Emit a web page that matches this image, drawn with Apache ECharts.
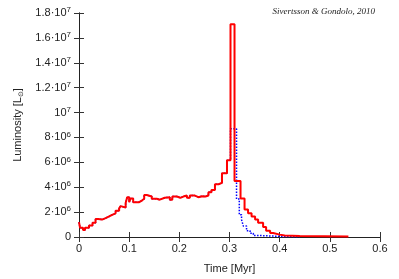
<!DOCTYPE html>
<html><head><meta charset="utf-8">
<script src="https://cdn.jsdelivr.net/npm/echarts@6/dist/echarts.min.js"></script>
<style>html,body{margin:0;padding:0;background:#fff}#c{width:399px;height:279px}</style>
</head><body><div id="c"></div>
<script>
// bin left edges (Myr) and luminosities (units of 10^6 L_sun)
var redEdges = [0, 0.002, 0.008, 0.012, 0.020, 0.027, 0.033, 0.038, 0.041, 0.046, 0.053, 0.060, 0.066, 0.073, 0.080, 0.083, 0.086, 0.093, 0.096, 0.100, 0.103, 0.108, 0.120, 0.126, 0.130, 0.135, 0.145, 0.155, 0.161, 0.171, 0.181, 0.186, 0.195, 0.202, 0.208, 0.215, 0.221, 0.231, 0.238, 0.245, 0.252, 0.258, 0.264, 0.271, 0.278, 0.285, 0.295, 0.302, 0.310, 0.322, 0.330, 0.337, 0.344, 0.351, 0.357, 0.367, 0.373, 0.381, 0.387, 0.400, 0.410, 0.440, 0.537];
var redLum = [1.2, 0.75, 0.57, 0.75, 0.93, 1.14, 1.45, 1.6, 1.4, 1.52, 1.65, 1.78, 1.9, 2.1, 2.3, 2.48, 2.37, 2.73, 3.2, 2.8, 3.1, 2.8, 2.95, 3.07, 3.38, 3.25, 3.07, 3.0, 3.15, 3.2, 3.0, 3.25, 3.15, 3.25, 3.33, 3.15, 3.33, 3.2, 3.28, 3.25, 3.33, 3.6, 3.77, 4.23, 4.36, 5.13, 6.16, 17.1, 4.5, 3.1, 2.2, 1.9, 1.65, 1.4, 1.14, 0.8, 0.5, 0.32, 0.19, 0.12, 0.08, 0.05, 0.05];
// blue run coincides with red before t = 0.302, then:
var blueTailEdges = [0.302, 0.314, 0.3195, 0.324, 0.3275, 0.334, 0.341, 0.3475, 0.360, 0.400, 0.440];
var blueTailLum = [8.7, 3.05, 1.78, 1.4, 0.88, 0.5, 0.3, 0.12, 0.05, 0.02, 0.02];

var yTickLabels = ['0', '2·10|6', '4·10|6', '6·10|6', '8·10|6', '10|7', '1.2·10|7', '1.4·10|7', '1.6·10|7', '1.8·10|7'];
var xTickLabels = ['0', '0.1', '0.2', '0.3', '0.4', '0.5', '0.6'];

function pairs(e, v) { var o = []; for (var i = 0; i < e.length; i++) o.push([e[i], v[i]]); return o; }
var nEarly = redEdges.indexOf(0.302);
var blueData = pairs(redEdges.slice(0, nEarly), redLum.slice(0, nEarly)).concat(pairs(blueTailEdges, blueTailLum));
var redData = pairs(redEdges, redLum);

var font = 'Liberation Sans, Arial, sans-serif';
var tickStyle = {show: true, inside: true, length: 5, lineStyle: {color: '#333', width: 1}};
var lineStyle = {show: true, lineStyle: {color: '#222', width: 1}};

var chart = echarts.init(document.getElementById('c'), null, {renderer: 'canvas'});
chart.setOption({
  animation: false,
  backgroundColor: '#fff',
  title: {
    text: 'Sivertsson & Gondolo, 2010',
    right: 19, top: 2,
    textStyle: {fontFamily: 'Liberation Serif, DejaVu Serif, serif', fontStyle: 'italic', fontWeight: 'normal', fontSize: 9, color: '#222'}
  },
  grid: {left: 79, right: 19, top: 13, bottom: 33, containLabel: false},
  xAxis: [{
    type: 'value', min: 0, max: 0.6, interval: 0.1, position: 'bottom',
    name: 'Time [Myr]', nameLocation: 'middle', nameGap: 26,
    nameTextStyle: {fontFamily: font, fontSize: 11, color: '#222'},
    axisLine: lineStyle, axisTick: tickStyle, splitLine: {show: false},
    axisLabel: {margin: 6, fontFamily: font, fontSize: 11, color: '#222',
      formatter: function (v) { return xTickLabels[Math.round(v * 10)]; }}
  }, {
    type: 'value', min: 0, max: 0.6, interval: 0.1, position: 'top',
    axisLine: lineStyle, axisTick: tickStyle, axisLabel: {show: false}, splitLine: {show: false}
  }],
  yAxis: [{
    type: 'value', min: 0, max: 18, interval: 2, position: 'left',
    name: '{n|Luminosity [L}{sub|⊙}{n|]}', nameLocation: 'middle', nameGap: 54, nameRotate: 90,
    nameTextStyle: {rich: {
      n: {fontFamily: font, fontSize: 11, color: '#222'},
      sub: {fontFamily: 'DejaVu Sans, sans-serif', fontSize: 7, color: '#222', padding: [6, 0, 0, 0]}
    }},
    axisLine: lineStyle, axisTick: tickStyle, splitLine: {show: false},
    axisLabel: {margin: 8, fontFamily: font, fontSize: 11, color: '#222',
      formatter: function (v) {
        var s = yTickLabels[Math.round(v / 2)];
        var p = s.split('|');
        return p.length > 1 ? '{a|' + p[0] + '}{s|' + p[1] + '}' : '{a|' + s + '}';
      },
      rich: {
        a: {fontFamily: font, fontSize: 11, color: '#222', lineHeight: 14},
        s: {fontFamily: font, fontSize: 8, color: '#222', verticalAlign: 'top', lineHeight: 14, padding: [0, 0, 6, 0]}
      }}
  }, {
    type: 'value', min: 0, max: 18, interval: 2, position: 'right',
    axisLine: lineStyle, axisTick: tickStyle, axisLabel: {show: false}, splitLine: {show: false}
  }],
  series: [{
    type: 'line', step: 'end', data: blueData, showSymbol: false, symbol: 'none', z: 2,
    lineStyle: {color: '#0000ff', width: 1.5, type: 'dotted'}
  }, {
    type: 'line', step: 'end', data: redData, showSymbol: false, symbol: 'none', z: 3,
    lineStyle: {color: '#ff0000', width: 2}
  }]
});
</script></body></html>
